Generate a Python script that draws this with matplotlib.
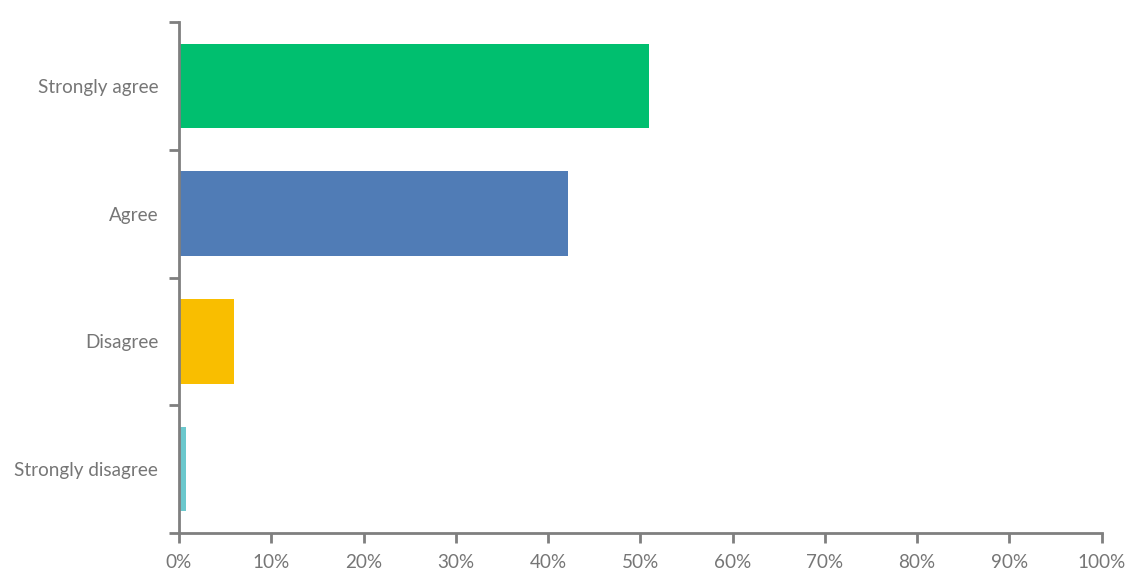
import matplotlib
matplotlib.use("Agg")
import matplotlib.pyplot as plt
from matplotlib.ticker import FuncFormatter, MultipleLocator

categories = ["Strongly agree", "Agree", "Disagree", "Strongly disagree"]
values = [51.0, 42.2, 6.0, 0.8]
colors = ["#00BF6F", "#507CB6", "#F9BE00", "#6BC8CD"]

plt.rcParams['font.family'] = ['Lato', 'DejaVu Sans']
text_color = "#767676"
spine_color = "#7F7F7F"

fig = plt.figure(figsize=(11.48, 5.86), dpi=100)
ax = fig.add_axes([179/1148, 1-533/586, (1101.5-179)/1148, (533-22)/586])

n = len(categories)
ypos = list(range(n))
ax.barh(ypos, values, height=0.66, color=colors, zorder=2)
ax.set_ylim(n - 0.5, -0.5)
ax.set_xlim(0, 100)

ax.set_yticks(ypos)
ax.set_yticklabels(categories)
ax.set_yticks([i - 0.5 for i in range(n + 1)], minor=True)
ax.tick_params(axis='y', which='major', length=0, pad=15, labelsize=13.6, labelcolor=text_color)
ax.tick_params(axis='y', which='minor', length=7, width=2, color=spine_color)

ax.xaxis.set_major_locator(MultipleLocator(10))
ax.xaxis.set_major_formatter(FuncFormatter(lambda v, p: f"{int(round(v))}%"))
ax.tick_params(axis='x', length=7, width=2, color=spine_color, pad=8, labelsize=13.6, labelcolor=text_color)

for s in ['top', 'right']:
    ax.spines[s].set_visible(False)
for s in ['left', 'bottom']:
    ax.spines[s].set_color(spine_color)
    ax.spines[s].set_linewidth(2)

fig.savefig("out.png", dpi=100)
